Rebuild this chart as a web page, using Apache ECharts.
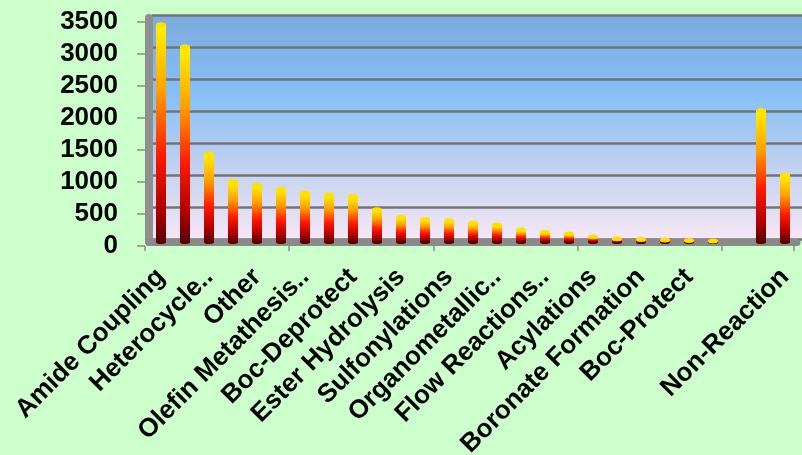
<!DOCTYPE html>
<html>
<head>
<meta charset="utf-8">
<script src="https://cdn.jsdelivr.net/npm/echarts@6/dist/echarts.min.js"></script>
<style>
  html, body { margin: 0; padding: 0; background: #ccffcc; }
  #chart { width: 802px; height: 455px; }
</style>
</head>
<body>
<div id="chart"></div>
<script>
// Reaction types (only every other one carries a visible label)
const categories = [
  'Amide Coupling', '', 'Heterocycle..', '', 'Other', '',
  'Olefin Metathesis..', '', 'Boc-Deprotect', '', 'Ester Hydrolysis', '',
  'Sulfonylations', '', 'Organometallic..', '', 'Flow Reactions..', '',
  'Acylations', '', 'Boronate Formation', '', 'Boc-Protect', '',
  '', '', 'Non-Reaction'
];
// Counts per reaction type
const counts = [
  3400, 3050, 1380, 950, 890, 830, 770, 740, 720, 510, 390, 355, 335,
  300, 270, 190, 155, 130, 85, 55, 45, 35, 28, 20, null, 2060, 1050
];
// Value axis ticks
const yMin = 0, yMax = 3500, yStep = 500;

const FONT = "'Liberation Sans', Arial, sans-serif";
const chart = echarts.init(document.getElementById('chart'));

const barGradient = new echarts.graphic.LinearGradient(0, 0, 0, 1, [
  { offset: 0, color: '#fff200' },
  { offset: 0.3, color: '#ffa200' },
  { offset: 0.6, color: '#ff1800' },
  { offset: 0.85, color: '#b00000' },
  { offset: 1, color: '#580000' }
]);

// side shading that gives the bars a rounded look
const shadeGradient = new echarts.graphic.LinearGradient(0, 0, 1, 0, [
  { offset: 0, color: 'rgba(60,0,0,0.3)' },
  { offset: 0.35, color: 'rgba(255,255,255,0.1)' },
  { offset: 0.6, color: 'rgba(0,0,0,0)' },
  { offset: 1, color: 'rgba(60,0,0,0.3)' }
]);

const wallGradient = new echarts.graphic.LinearGradient(0, 0, 0, 1, [
  { offset: 0, color: '#7ea9dc' },
  { offset: 0.35, color: '#84c0f7' },
  { offset: 0.65, color: '#bccfee' },
  { offset: 1, color: '#f6e7f6' }
]);

const valueAxisBase = { type: 'value', min: yMin, max: yMax, interval: yStep };

chart.setOption({
  backgroundColor: '#ccffcc',
  animation: false,
  grid: [
    // back wall
    { left: 152, right: 0, top: 15, bottom: 216, show: true, outerBoundsMode: 'none',
      backgroundColor: wallGradient, borderWidth: 0 },
    // front plane: ticks and value labels
    { left: 145, right: 8, top: 22, bottom: 209, outerBoundsMode: 'none' },
    // bar plane
    { left: 149, right: 5, top: 18, bottom: 213, outerBoundsMode: 'none' }
  ],
  xAxis: [
    { gridIndex: 0, type: 'category', data: categories, show: false },
    { gridIndex: 1, type: 'category', data: categories,
      axisLine: { show: false },
      axisTick: { show: true, length: 5, lineStyle: { color: '#8c8c8c', width: 1.5 } },
      axisLabel: { show: false } },
    { gridIndex: 2, type: 'category', data: categories,
      axisLine: { show: true, lineStyle: { color: '#8a8a8a', width: 7 } },
      axisTick: { show: false },
      axisLabel: { interval: 0, rotate: 45, margin: 31, color: '#000',
        fontFamily: FONT, fontWeight: 'bold', fontSize: 26 } }
  ],
  yAxis: [
    Object.assign({ gridIndex: 0,
      axisLine: { show: false }, axisTick: { show: false }, axisLabel: { show: false },
      splitLine: { show: true, lineStyle: { color: '#747474', width: 2.5 } } }, valueAxisBase),
    Object.assign({ gridIndex: 1,
      axisLine: { show: false },
      axisTick: { show: true, length: 8, lineStyle: { color: '#8c8c8c', width: 1.5 } },
      splitLine: { show: false },
      axisLabel: { margin: 27, color: '#000', fontFamily: FONT, fontWeight: 'bold', fontSize: 26,
        formatter: v => String(v) } },
      valueAxisBase),
    Object.assign({ gridIndex: 2,
      axisLine: { show: true, lineStyle: { color: '#8f8f8f', width: 8 } },
      axisTick: { show: false }, axisLabel: { show: false }, splitLine: { show: false } },
      valueAxisBase)
  ],
  series: [
    { type: 'bar', xAxisIndex: 2, yAxisIndex: 2, data: counts, barWidth: 10,
      itemStyle: { color: barGradient }, z: 3 },
    // rounded shading over each cylinder body
    { type: 'pictorialBar', xAxisIndex: 2, yAxisIndex: 2, data: counts,
      symbol: 'rect', symbolSize: [10, '100%'], symbolPosition: 'start',
      itemStyle: { color: shadeGradient }, z: 3, silent: true },
    // rounded base of each cylinder
    { type: 'pictorialBar', xAxisIndex: 2, yAxisIndex: 2, data: counts,
      symbol: 'circle', symbolSize: [10, 4], symbolPosition: 'start',
      symbolOffset: [0, '50%'], itemStyle: { color: '#5a0000' }, z: 2 },
    // top cap of each cylinder
    { type: 'pictorialBar', xAxisIndex: 2, yAxisIndex: 2, data: counts,
      symbol: 'circle', symbolSize: [10, 5], symbolPosition: 'end',
      symbolOffset: [0, '-50%'],
      itemStyle: { color: '#ffe100', borderColor: '#f0a000', borderWidth: 0.8 }, z: 4 }
  ]
});
</script>
</body>
</html>
